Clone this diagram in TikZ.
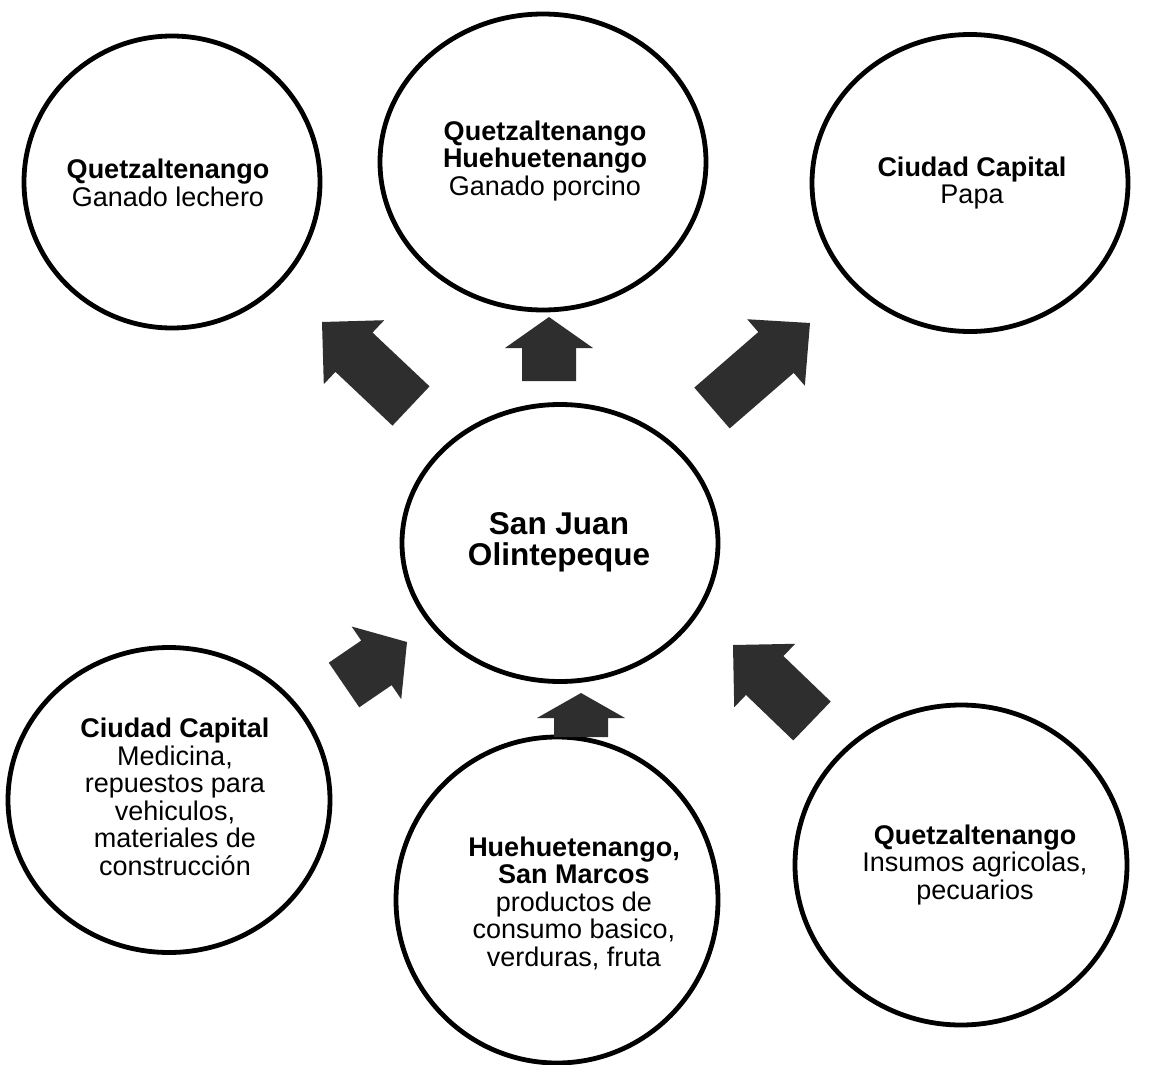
\documentclass[tikz,border=0pt]{standalone}
\usepackage{fontspec}
\setmainfont{Liberation Sans}
\usetikzlibrary{shapes.geometric,calc}
\tikzset{
  place/.style={draw=black, line width=4.8pt, ellipse, inner sep=0pt},
  lbl/.style={align=center, font=\fontsize{27}{27.5}\selectfont, inner sep=0pt, text=black},
  hub/.style={align=center, font=\fontsize{31.5}{31}\selectfont\bfseries, inner sep=0pt, text=black},
  arrowfill/.style={fill=black!82},
}
\newcommand\blockarrow[3]{%
  \coordinate (hb) at ($(#2)!#3pt!(#1)$);
  \fill[arrowfill] ($(#1)!27pt!90:(#2)$) -- ($(hb)!27pt!90:(#2)$) -- ($(hb)!44pt!90:(#2)$) -- (#2)
    -- ($(hb)!44pt!-90:(#2)$) -- ($(hb)!27pt!-90:(#2)$) -- ($(#1)!27pt!-90:(#2)$) -- cycle;}
\begin{document}
\begin{tikzpicture}[x=1pt,y=-1pt]
\useasboundingbox[fill=white] (0,0) rectangle (1152,1065);

% circles
\node[place, minimum width=296pt, minimum height=292pt] (tl) at (172,182) {};
\node[place, minimum width=326pt, minimum height=296pt] (tm) at (543,162) {};
\node[place, minimum width=316pt, minimum height=297pt] (tr) at (970,183) {};
\node[place, minimum width=316pt, minimum height=277pt] (c) at (560,543) {};
\node[place, minimum width=322pt, minimum height=305pt] (bl) at (169,800) {};
\node[place, minimum width=322pt, minimum height=326pt] (bm) at (557,900) {};
\node[place, minimum width=332pt, minimum height=320pt] (br) at (961,865) {};

% texts
\node[lbl] (tltxt) at (168,183) {\textbf{Quetzaltenango}\\Ganado lechero};
\node[lbl] (tmtxt) at (545,161) {\textbf{Quetzaltenango}\\\textbf{Huehuetenango}\\Ganado porcino};
\node[lbl] (trtxt) at (972,183) {\textbf{Ciudad Capital}\\Papa};
\node[hub] (ctxt) at (559,542) {San Juan\\Olintepeque};
\node[lbl] (bltxt) at (175,797) {\textbf{Ciudad Capital}\\Medicina,\\repuestos para\\vehiculos,\\materiales de\\construcción};
\node[lbl] (bmtxt) at (574,903) {\textbf{Huehuetenango,}\\\textbf{San Marcos}\\productos de\\consumo basico,\\verduras, fruta};
\node[lbl] (brtxt) at (975,865) {\textbf{Quetzaltenango}\\Insumos agricolas,\\pecuarios};

% arrow end points
\coordinate (a1t) at (411,406); \coordinate (a1h) at (322,322);
\coordinate (a2t) at (549,381); \coordinate (a2h) at (549,317);
\coordinate (a3t) at (712,408); \coordinate (a3h) at (810,323);
\coordinate (a4t) at (344,685); \coordinate (a4h) at (407,642);
\coordinate (a5t) at (581,737); \coordinate (a5h) at (581,693);
\coordinate (a6t) at (812,721); \coordinate (a6h) at (733,645);

\blockarrow{a1t}{a1h}{44}
\blockarrow{a2t}{a2h}{31}
\blockarrow{a3t}{a3h}{45}
\blockarrow{a4t}{a4h}{37}
\blockarrow{a5t}{a5h}{25}
\blockarrow{a6t}{a6h}{44}
\end{tikzpicture}
\end{document}
